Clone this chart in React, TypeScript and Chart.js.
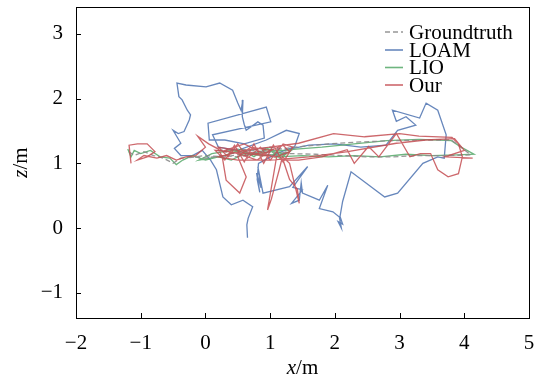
import React, { useEffect, useRef } from "react";
import { Chart, registerables } from "chart.js";

Chart.register(...registerables);

// ---------------- data ----------------
const xTicks = [-2, -1, 0, 1, 2, 3, 4, 5];
const yTicks = [-1, 0, 1, 2, 3];
const seriesNames = ["Groundtruth", "LOAM", "LIO", "Our"];
const seriesColors = ["rgba(140,140,140,0.9)", "rgba(76,114,176,0.85)", "rgba(85,168,104,0.85)", "rgba(196,78,82,0.85)"];

const groundtruth: [number, number][] = [
  [-1.18, 1.18], [-1.1, 1.12], [-0.95, 1.18], [-0.8, 1.12], [-0.65, 1.08], [-0.5, 1.0], [-0.38, 1.08],
  [-0.2, 1.1], [0.0, 1.08], [0.25, 1.12], [0.5, 1.1], [0.8, 1.15], [1.1, 1.12], [1.3, 1.2], [1.0, 1.25],
  [0.7, 1.2], [0.4, 1.15], [0.2, 1.2], [0.5, 1.22], [0.9, 1.18], [1.3, 1.15], [1.7, 1.14], [2.1, 1.12],
  [2.5, 1.1], [2.9, 1.1], [3.3, 1.12], [3.7, 1.12], [4.1, 1.13], [3.95, 1.25], [3.8, 1.36], [3.4, 1.36],
  [2.9, 1.35], [2.4, 1.33], [1.9, 1.3], [1.4, 1.25], [1.0, 1.2], [0.6, 1.15], [0.3, 1.1], [0.0, 1.12], [-0.3, 1.08],
];

const loam: [number, number][] = [
  [0.65, -0.15], [0.64, 0.05], [0.66, 0.15], [0.73, 0.33], [0.58, 0.43], [0.4, 0.36], [0.27, 0.48], [0.17, 0.9],
  [0.08, 1.05], [-0.05, 1.2], [-0.2, 1.12], [-0.38, 1.12], [-0.48, 1.23], [-0.38, 1.31], [-0.5, 1.51], [-0.42, 1.46],
  [-0.33, 1.49], [-0.25, 1.67], [-0.23, 1.75], [-0.28, 1.82], [-0.36, 1.98], [-0.41, 2.03], [-0.44, 2.24], [-0.3, 2.21],
  [0.01, 2.18], [0.22, 2.24], [0.42, 2.13], [0.5, 1.93], [0.55, 1.82], [0.58, 1.98], [0.57, 1.72], [0.6, 1.6],
  [0.63, 1.51], [0.81, 1.64], [0.89, 1.59], [0.91, 1.39], [0.6, 1.3], [0.3, 1.36], [0.06, 1.36], [0.04, 1.62],
  [0.94, 1.87], [1.01, 1.64], [0.11, 1.44], [0.2, 1.25], [0.5, 1.2], [0.94, 1.36], [1.25, 1.51], [1.45, 1.46],
  [1.38, 1.26], [1.1, 1.15], [0.82, 1.0], [0.8, 0.75], [0.84, 0.55], [0.79, 0.85], [0.86, 0.62], [0.81, 0.95],
  [0.89, 0.54], [1.3, 0.64], [1.58, 0.95], [1.35, 0.63], [1.5, 0.59], [1.33, 0.38], [1.45, 0.43], [1.48, 0.7],
  [1.5, 0.54], [1.76, 0.43], [1.89, 0.66], [1.76, 0.3], [1.97, 0.25], [2.07, 0.17], [2.1, 0.0], [2.05, 0.1],
  [2.12, 0.06], [2.08, 0.18], [2.12, 0.41], [2.25, 0.87], [2.77, 0.48], [2.97, 0.54], [3.36, 1.0], [3.59, 1.1],
  [3.69, 1.08], [3.72, 1.44], [3.59, 1.82], [3.41, 1.93], [3.31, 1.7], [2.89, 1.82], [2.95, 1.65], [3.1, 1.72],
  [3.25, 1.59], [2.97, 1.51], [2.79, 1.28], [2.4, 1.25], [2.0, 1.3], [1.6, 1.28], [1.3, 1.22],
];

const lio: [number, number][] = [
  [-1.2, 1.22], [-1.15, 1.1], [-1.1, 1.2], [-1.0, 1.15], [-0.85, 1.2], [-0.7, 1.1], [-0.55, 1.08], [-0.45, 0.98],
  [-0.35, 1.05], [-0.2, 1.12], [0.0, 1.05], [0.2, 1.1], [0.4, 1.05], [0.6, 1.15], [0.9, 1.12], [1.2, 1.15],
  [1.0, 1.22], [0.7, 1.15], [0.4, 1.2], [0.1, 1.15], [-0.1, 1.05], [0.3, 1.12], [0.55, 1.22], [0.75, 1.1],
  [0.95, 1.24], [1.15, 1.08], [1.3, 1.18], [1.1, 1.1], [1.5, 1.12], [1.9, 1.1], [2.3, 1.12], [2.7, 1.1],
  [3.1, 1.14], [3.5, 1.12], [3.9, 1.13], [4.15, 1.14], [3.95, 1.25], [3.8, 1.35], [3.3, 1.37], [2.8, 1.35],
  [2.3, 1.3], [1.8, 1.25], [1.4, 1.22], [1.0, 1.18], [0.6, 1.12],
];

const our: [number, number][] = [
  [-1.15, 1.0], [-1.18, 1.28], [-1.05, 1.3], [-0.9, 1.3], [-0.78, 1.18], [-0.9, 1.1], [-1.05, 1.05], [-0.95, 1.12],
  [-0.75, 1.08], [-0.6, 1.12], [-0.45, 1.05], [-0.3, 1.1], [-0.15, 1.12], [0.0, 1.25], [-0.12, 1.42], [0.05, 1.3],
  [0.2, 1.22], [0.26, 1.1], [0.32, 0.74], [0.53, 0.54], [0.63, 0.79], [0.5, 1.1], [0.7, 1.25], [1.0, 1.2],
  [0.8, 1.05], [0.5, 1.15], [0.3, 1.2], [0.6, 1.3], [0.9, 1.15], [1.2, 1.28], [1.3, 1.18], [1.1, 1.1],
  [0.15, 1.2], [0.3, 1.05], [0.45, 1.28], [0.6, 1.02], [0.75, 1.3], [0.9, 1.0], [1.05, 1.28], [1.2, 1.02],
  [1.35, 1.25], [1.2, 1.3], [1.0, 1.05], [0.85, 1.25], [0.65, 1.08], [0.5, 1.3], [0.35, 1.1], [0.2, 1.25],
  [1.1, 1.1], [0.96, 0.28], [1.02, 0.45], [1.07, 0.64], [1.14, 0.9], [1.19, 1.1], [1.3, 1.0], [1.45, 0.38],
  [1.42, 0.6], [1.3, 0.75], [1.2, 1.05], [1.44, 1.05], [1.8, 1.1], [2.19, 1.21], [2.3, 1.0], [2.52, 1.26],
  [2.68, 1.1], [2.95, 1.46], [3.16, 1.1], [3.32, 1.15], [3.48, 1.15], [3.59, 0.9], [3.75, 0.79], [3.91, 0.84],
  [3.97, 1.1], [3.91, 1.3], [3.81, 1.4], [3.3, 1.42], [3.0, 1.46], [2.46, 1.41], [1.98, 1.46], [1.44, 1.31],
  [1.0, 1.25], [0.6, 1.2], [0.2, 1.1], [0.5, 1.05], [1.0, 1.05], [1.6, 1.1], [2.2, 1.18], [2.95, 1.31],
  [3.4, 1.36], [3.85, 1.38], [4.0, 1.2], [3.7, 1.1], [4.13, 1.08],
];

// ---------------- helpers ----------------
const FONT = "'Liberation Serif', 'DejaVu Serif', serif";
const fmt = (v: number) => (v < 0 ? "\u2212" + Math.abs(v) : String(v));

const framePlugin = {
  id: "frameTicks",
  afterDraw(chart: any) {
    const { ctx, chartArea: a, scales } = chart;
    ctx.save();
    ctx.strokeStyle = "#000";
    ctx.lineWidth = 1;
    ctx.strokeRect(Math.round(a.left) + 0.5, Math.round(a.top) + 0.5, Math.round(a.right - a.left), Math.round(a.bottom - a.top));
    ctx.beginPath();
    for (const v of xTicks) {
      const px = Math.round(scales.x.getPixelForValue(v)) + 0.5;
      ctx.moveTo(px, a.bottom);
      ctx.lineTo(px, a.bottom - 5);
    }
    for (const v of yTicks) {
      const py = Math.round(scales.y.getPixelForValue(v)) + 0.5;
      ctx.moveTo(a.left, py);
      ctx.lineTo(a.left + 5, py);
    }
    ctx.stroke();

    // axis titles
    ctx.fillStyle = "#000";
    ctx.textBaseline = "middle";
    const drawTitle = (v: string, x: number, y: number, rot: number) => {
      ctx.save();
      ctx.translate(x, y);
      ctx.rotate(rot);
      ctx.font = `italic 21px ${FONT}`;
      const w1 = ctx.measureText(v).width;
      ctx.font = `21px ${FONT}`;
      const w2 = ctx.measureText("/m").width;
      const start = -(w1 + w2) / 2;
      ctx.textAlign = "left";
      ctx.font = `italic 21px ${FONT}`;
      ctx.fillText(v, start, 0);
      ctx.font = `21px ${FONT}`;
      ctx.fillText("/m", start + w1, 0);
      ctx.restore();
    };
    drawTitle("x", (a.left + a.right) / 2, 368, 0);
    drawTitle("z", 21, (a.top + a.bottom) / 2, -Math.PI / 2);

    // legend
    const rows = [32, 50, 67.5, 85];
    ctx.font = `21px ${FONT}`;
    ctx.textAlign = "left";
    seriesNames.forEach((name, i) => {
      ctx.save();
      ctx.strokeStyle = seriesColors[i];
      ctx.lineWidth = 1.6;
      ctx.setLineDash(i === 0 ? [5, 3] : []);
      ctx.beginPath();
      ctx.moveTo(385, rows[i]);
      ctx.lineTo(403, rows[i]);
      ctx.stroke();
      ctx.restore();
      ctx.fillStyle = "#000";
      ctx.fillText(name, 409, rows[i] + 1);
    });
    ctx.restore();
  },
};

const zeroPad = (s: any) => {
  s.paddingTop = 0;
  s.paddingBottom = 0;
  s.paddingLeft = 0;
  s.paddingRight = 0;
};

export default function App() {
  const ref = useRef<HTMLCanvasElement | null>(null);
  useEffect(() => {
    if (!ref.current) return;
    const sets = [groundtruth, loam, lio, our];
    const orders = [1, 3, 2, 0];
    const chart = new Chart(ref.current, {
      type: "scatter",
      data: {
        datasets: sets.map((s, i) => ({
          label: seriesNames[i],
          data: s.map(([x, y]) => ({ x, y })),
          showLine: true,
          borderColor: seriesColors[i],
          backgroundColor: seriesColors[i],
          borderWidth: 1.3,
          borderDash: i === 0 ? [5, 3] : [],
          pointRadius: 0,
          tension: 0,
          order: orders[i],
        })),
      },
      options: {
        responsive: false,
        animation: false,
        layout: { padding: { left: 0, right: 17, top: 7, bottom: 0 } },
        plugins: { legend: { display: false }, tooltip: { enabled: false } },
        scales: {
          x: {
            type: "linear",
            min: -2,
            max: 5,
            afterBuildTicks: (s: any) => {
              s.ticks = xTicks.map((v) => ({ value: v }));
            },
            afterFit: (s: any) => {
              s.height = 62;
              zeroPad(s);
            },
            ticks: {
              color: "#000",
              font: { family: FONT, size: 21 },
              padding: 13,
              maxRotation: 0,
              autoSkip: false,
              callback: (v: any) => fmt(Number(v)),
            },
            grid: { display: false, drawTicks: false },
            border: { display: false },
          },
          y: {
            type: "linear",
            min: -1.39,
            max: 3.415,
            afterBuildTicks: (s: any) => {
              s.ticks = yTicks.map((v) => ({ value: v }));
            },
            afterFit: (s: any) => {
              s.width = 76;
              zeroPad(s);
            },
            ticks: {
              color: "#000",
              font: { family: FONT, size: 21 },
              padding: 13,
              autoSkip: false,
              callback: (v: any) => fmt(Number(v)),
            },
            grid: { display: false, drawTicks: false },
            border: { display: false },
          },
        },
      },
      plugins: [framePlugin],
    } as any);
    return () => chart.destroy();
  }, []);
  return (
    <div style={{ position: "fixed", left: 0, top: 0, width: 546, height: 380, background: "#fff" }}>
      <canvas ref={ref} width={546} height={380} />
    </div>
  );
}
